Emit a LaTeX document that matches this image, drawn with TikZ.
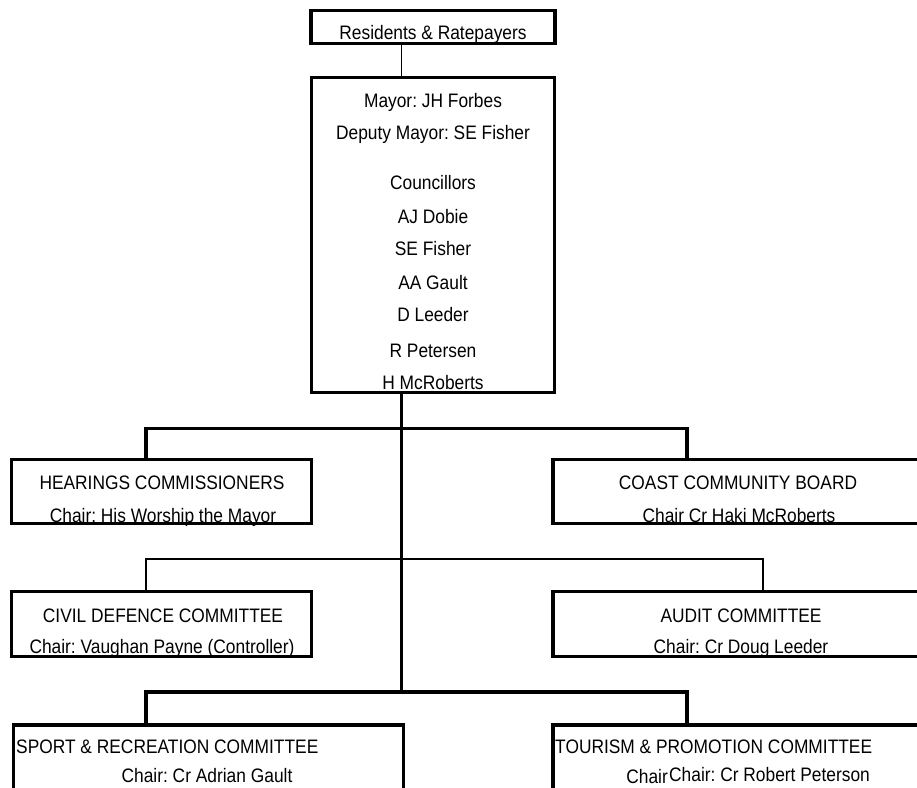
\documentclass[tikz,border=0pt]{standalone}
\usepackage{fontspec}
\setmainfont{Liberation Sans}[FakeStretch=0.89]
\frenchspacing
\begin{document}
\begin{tikzpicture}[x=1pt,y=1pt,
  orgbox/.style={draw=black, line width=3.5pt, rectangle, inner sep=0pt},
  txt/.style={anchor=base, inner sep=0pt, font=\fontsize{19.5}{22}\selectfont},
  txtl/.style={anchor=base west, inner sep=0pt, font=\fontsize{19.5}{22}\selectfont},
  txtr/.style={anchor=base east, inner sep=0pt, font=\fontsize{19.5}{22}\selectfont},
  heavy/.style={line width=3.5pt},
  light/.style={line width=1.5pt}]
\useasboundingbox (0,0) rectangle (917,-787);
\clip (0,0) rectangle (917,-787);
\fill[white] (0,0) rectangle (917,-787);

% boxes
\node[orgbox, minimum width=244pt, minimum height=33pt] (res) at (433,-27) {};
\node[orgbox, minimum width=243pt, minimum height=315pt] (mayor) at (433,-235) {};
\node[orgbox, minimum width=300pt, minimum height=64pt] (hear) at (161.5,-491.5) {};
\node[orgbox, minimum width=420pt, minimum height=64pt, anchor=west] (coast) at (551,-491.5) {};
\node[orgbox, minimum width=300pt, minimum height=65pt] (civil) at (161.5,-624) {};
\node[orgbox, minimum width=420pt, minimum height=65pt, anchor=west] (audit) at (551,-624) {};
\node[orgbox, minimum width=390pt, minimum height=140pt, anchor=north west] (sport) at (11.5,-723) {};
\node[orgbox, minimum width=420pt, minimum height=140pt, anchor=north west] (tour) at (551,-723) {};

% texts
\node[txt] (tres) at (433,-39) {Residents \& Ratepayers};
\node[txt] (t1) at (433,-107) {Mayor: JH Forbes};
\node[txt] (t2) at (433,-139) {Deputy Mayor: SE Fisher};
\node[txt] (t3) at (433,-189) {Councillors};
\node[txt] (t4) at (433,-223) {AJ Dobie};
\node[txt] (t5) at (433,-255) {SE Fisher};
\node[txt] (t6) at (433,-289) {AA Gault};
\node[txt] (t7) at (433,-321) {D Leeder};
\node[txt] (t8) at (433,-357) {R Petersen};
\node[txt] (t9) at (433,-389) {H McRoberts};

\node[txt] (th1) at (162,-489) {HEARINGS COMMISSIONERS};
\node[txt] (th2) at (163,-522) {Chair: His Worship the Mayor};
\node[txt] (tc1) at (738,-489) {COAST COMMUNITY BOARD};
\node[txt] (tc2) at (739,-522) {Chair Cr Haki McRoberts};
\node[txt] (td1) at (163,-622) {CIVIL DEFENCE COMMITTEE};
\node[txt] (td2) at (162,-653) {Chair: Vaughan Payne (Controller)};
\node[txt] (ta1) at (741,-622) {AUDIT COMMITTEE};
\node[txt] (ta2) at (741,-653) {Chair: Cr Doug Leeder};
\node[txtl] (ts1) at (16,-753) {SPORT \& RECREATION COMMITTEE};
\node[txt] (ts2) at (207,-782) {Chair: Cr Adrian Gault};
\node[txtl] (tt1) at (555,-753) {TOURISM \& PROMOTION COMMITTEE};
\node[txtr] (tt2) at (668,-783) {Chair};
\node[txtl] (tt3) at (669,-781) {Chair: Cr Robert Peterson};

% connector coordinates
\coordinate (tx) at (401.5,0);
\coordinate (lx) at (146,0);
\coordinate (rxa) at (687,0);
\coordinate (rxb) at (763,0);
\coordinate (b1) at (401.5,-428.5);
\coordinate (b2) at (401.5,-559);
\coordinate (b3) at (401.5,-692);

% connectors
\draw[light] (res.south -| tx) -- (mayor.north -| tx);
\draw[heavy] (mayor.south -| tx) -- (b3);
\draw[heavy] (hear.north -| lx) |- (b1) -| (coast.north -| rxa);
\draw[light] (civil.north -| lx) |- (b2) -| (audit.north -| rxb);
\draw[heavy] (sport.north -| lx) |- (b3) -| (tour.north -| rxa);
\end{tikzpicture}
\end{document}
